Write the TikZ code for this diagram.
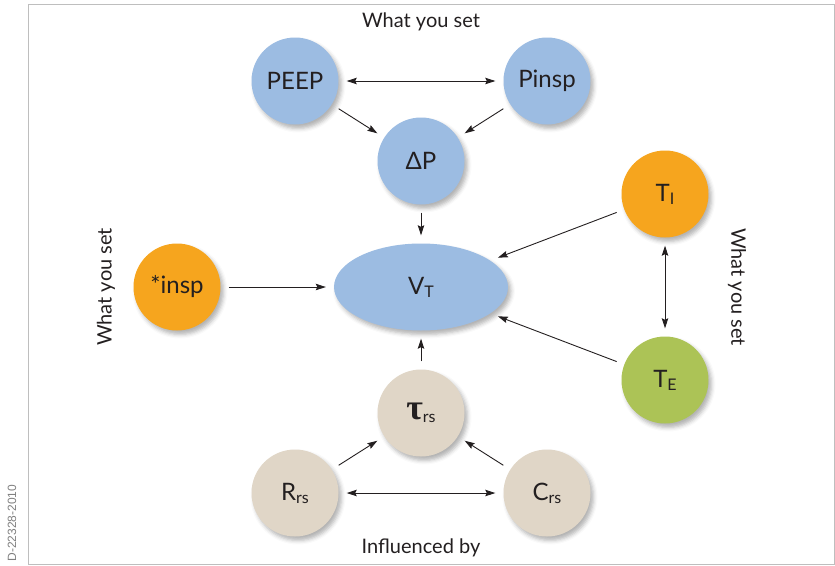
\documentclass[tikz,border=0pt]{standalone}
\usepackage{fontspec}
\setmainfont{Lato}
\newfontfamily\taufont{Liberation Serif}
\newfontfamily\codefont{Liberation Sans}
\usepackage{xcolor}
\usetikzlibrary{calc, shapes.geometric, shadows.blur, arrows.meta}

\definecolor{setblue}{RGB}{156,188,226}
\definecolor{setorange}{RGB}{246,165,30}
\definecolor{setgreen}{RGB}{172,195,86}
\definecolor{rsbeige}{RGB}{224,214,199}
\definecolor{inkgrey}{RGB}{35,31,32}
\definecolor{framegrey}{RGB}{190,190,190}

\newcommand{\bigtext}{\fontsize{24}{28}\selectfont}
\newcommand{\sidetext}{\fontsize{20}{24}\selectfont}
\newcommand{\sub}[1]{\raisebox{-3pt}{\fontsize{16}{18}\selectfont #1}}

\begin{document}
\begin{tikzpicture}[x=1pt, y=-1pt,
		bubble/.style={circle, minimum size=87pt, inner sep=0pt, text=inkgrey, font=\bigtext,
			blur shadow={shadow xshift=3pt, shadow yshift=-4pt, shadow blur radius=4pt, shadow opacity=30}},
		link/.style={-{Stealth[length=10pt, width=6.5pt, inset=1.5pt]}, line width=0.9pt, draw=inkgrey,
			shorten >=8pt, shorten <=8pt},
		twoway/.style={link, {Stealth[length=10pt, width=6.5pt, inset=1.5pt]}-{Stealth[length=10pt, width=6.5pt, inset=1.5pt]}},
		caption/.style={text=inkgrey, font=\sidetext, inner sep=0pt}]
		\def\dx{126};
		\def\dy{80};
		
		\useasboundingbox (0,0) rectangle (835,565);
		\draw [framegrey, line width=1pt] (28,4) rectangle (834,564);
		
		\coordinate(vt centre) at (421,287);
		
		% what you set, on top
		\node [bubble, fill=setblue] (delta p) at ($ (vt centre) + (0,-126) $) {ΔP};
		\node [bubble, fill=setblue] (peep) at ($ (delta p) + (-\dx,-\dy) $) {PEEP};
		\node [bubble, fill=setblue] (pinsp) at ($ (delta p) + (\dx,-\dy) $) {Pinsp};
		
		\node [ellipse, minimum width=174pt, minimum height=87pt, inner sep=0pt, fill=setblue,
			text=inkgrey, font=\bigtext,
			blur shadow={shadow xshift=3pt, shadow yshift=-4pt, shadow blur radius=4pt, shadow opacity=30}]
			(vt) at (vt centre) {V\sub{T}};
		
		\node [bubble, fill=setorange] (star insp) at ($ (vt centre) + (-244,0) $) {*insp};
		
		% times
		\node [bubble, fill=setorange] (ti) at (665,194) {T\sub{I}};
		\node [bubble, fill=setgreen] (te) at (665,380) {T\sub{E}};
		
		% respiratory system
		\node [bubble, fill=rsbeige] (tau) at ($ (vt centre) + (0,126) $) {{\taufont\bfseries\fontsize{36}{36}\selectfont τ}\sub{rs}};
		\node [bubble, fill=rsbeige] (rrs) at ($ (tau) + (-\dx,\dy) $) {R\sub{rs}};
		\node [bubble, fill=rsbeige] (crs) at ($ (tau) + (\dx,\dy) $) {C\sub{rs}};
		
		\draw [twoway] (peep) -- (pinsp);
		\draw [link] (peep) -- (delta p);
		\draw [link] (pinsp) -- (delta p);
		\draw [link] (delta p) -- (vt);
		\draw [link] (star insp) -- (vt);
		\draw [link] (ti) -- (vt);
		\draw [link] (te) -- (vt);
		\draw [twoway] (ti) -- (te);
		\draw [link] (tau) -- (vt);
		\draw [link] (rrs) -- (tau);
		\draw [link] (crs) -- (tau);
		\draw [twoway] (rrs) -- (crs);
		
		\node [caption] (set top) at (421,22) {What you set};
		\node [caption, rotate=90] (set left) at (106,287) {What you set};
		\node [caption, rotate=-90] (set right) at (737,287) {What you set};
		\node [caption] (influence) at (421,548) {Influenced by};
		\node [rotate=90, inner sep=0pt, text=gray, font=\codefont\fontsize{12}{13}\selectfont] (code) at (12,523) {D-22328-2010};
	\end{tikzpicture}
\end{document}
